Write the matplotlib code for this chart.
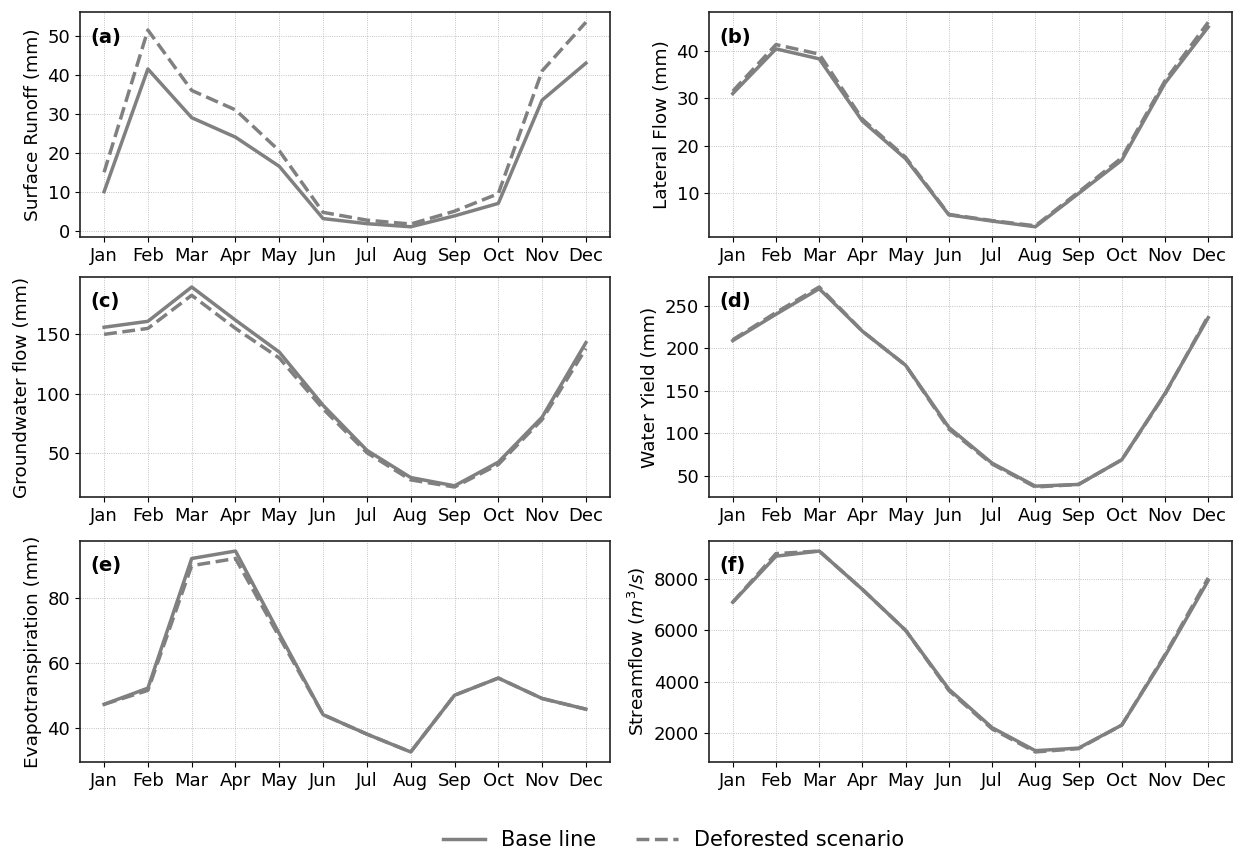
import matplotlib
matplotlib.use("Agg")
import matplotlib.pyplot as plt
from matplotlib.lines import Line2D

plt.rcParams["font.family"] = ["DejaVu Sans"]

MONTHS = ["Jan", "Feb", "Mar", "Apr", "May", "Jun",
          "Jul", "Aug", "Sep", "Oct", "Nov", "Dec"]

# ---- monthly values ----
runoff_base = [10, 41.5, 29, 24, 16.5, 3.1, 1.8, 1.0, 3.8, 7.0, 33.5, 43]
runoff_defo = [15, 51.5, 36, 31, 20.5, 4.7, 2.7, 1.7, 5.0, 9.5, 41, 53.5]

lateral_base = [31, 40.4, 38.3, 25.2, 17.3, 5.5, 4.2, 3.0, 10.0, 17.0, 33.2, 45]
lateral_defo = [31.5, 41.3, 39.3, 25.6, 17.6, 5.6, 4.3, 3.2, 10.3, 17.5, 33.7, 46]

gw_base = [156, 161, 190, 162, 135, 90, 52, 29, 22, 42, 80, 143]
gw_defo = [150, 155, 183, 155, 130, 87, 50, 27, 21, 40, 78, 138]

wy_base = [209, 240, 270, 220, 180, 107, 65, 38, 40, 69, 147, 236]
wy_defo = [210, 242, 272, 220, 180, 105, 64, 37, 40, 69, 146, 238]

et_base = [47.2, 52.2, 92.2, 94.5, 69, 44, 38, 32.5, 50, 55.3, 49, 45.7]
et_defo = [47.2, 51.5, 90.0, 92.2, 68, 44, 38, 32.5, 50, 55.3, 49, 45.7]

sf_base = [7100, 8900, 9100, 7600, 6000, 3700, 2200, 1300, 1400, 2300, 5000, 7950]
sf_defo = [7100, 9000, 9100, 7600, 6000, 3650, 2150, 1250, 1380, 2300, 5050, 8050]

PANELS = [
    ("(a)", "Surface Runoff (mm)", runoff_base, runoff_defo, [0, 10, 20, 30, 40, 50]),
    ("(b)", "Lateral Flow (mm)", lateral_base, lateral_defo, [10, 20, 30, 40]),
    ("(c)", "Groundwater flow (mm)", gw_base, gw_defo, [50, 100, 150]),
    ("(d)", "Water Yield (mm)", wy_base, wy_defo, [50, 100, 150, 200, 250]),
    ("(e)", "Evapotranspiration (mm)", et_base, et_defo, [40, 60, 80]),
    ("(f)", "Streamflow ($m^3/s$)", sf_base, sf_defo, [2000, 4000, 6000, 8000]),
]

LINE_COLOR = "#808080"
LW = 2.5

W, H = 1234, 850
# axes boxes in pixels: (left, right) and (top, bottom)
COLS = [(80, 610), (709, 1232)]
ROWS = [(12, 237), (277, 497), (541, 762)]

fig = plt.figure(figsize=(W / 100, H / 100), dpi=100)

for i, (tag, ylabel, base, defo, yt) in enumerate(PANELS):
    r, c = divmod(i, 2)
    x0, x1 = COLS[c]
    y0, y1 = ROWS[r]
    ax = fig.add_axes([x0 / W, 1 - y1 / H, (x1 - x0) / W, (y1 - y0) / H])
    x = range(len(MONTHS))
    ax.plot(x, base, color=LINE_COLOR, lw=LW, ls="-")
    ax.plot(x, defo, color=LINE_COLOR, lw=LW, ls="--")
    ax.set_xticks(list(x))
    ax.set_xticklabels(MONTHS, fontsize=13)
    ax.set_yticks(yt)
    ax.tick_params(axis="both", labelsize=13)
    ax.set_ylabel(ylabel, fontsize=13.3)
    ax.grid(True, ls=":", lw=0.6, color="#b0b0b0")
    ax.set_axisbelow(True)
    for s in ax.spines.values():
        s.set_linewidth(1.2)
        s.set_color("#222222")
    ax.text(0.02, 0.93, tag, transform=ax.transAxes, fontsize=14,
            fontweight="bold", ha="left", va="top")

handles = [Line2D([], [], color=LINE_COLOR, lw=LW, ls="-"),
           Line2D([], [], color=LINE_COLOR, lw=LW, ls="--")]
fig.legend(handles, ["Base line", "Deforested scenario"], loc="lower center",
           bbox_to_anchor=(0.546, -0.022), ncol=2, frameon=False, fontsize=15,
           columnspacing=1.9, handlelength=2.0, handletextpad=0.8)

fig.savefig("out.png", dpi=100)
